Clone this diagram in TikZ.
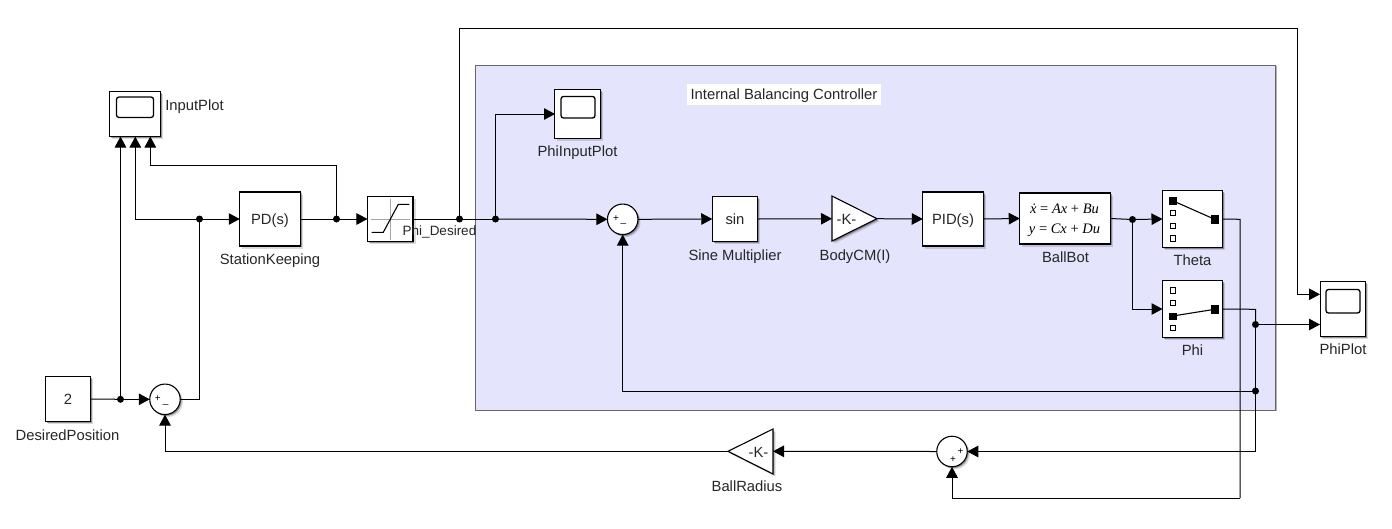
\documentclass[tikz,border=0pt]{standalone}
\usepackage{fontspec}
\setmainfont{Liberation Sans}
\newfontfamily\eqfont{Liberation Serif}
\usetikzlibrary{arrows.meta,shadows,calc}
\definecolor{subfill}{HTML}{E4E4FC}
\definecolor{txt}{HTML}{262626}
\newcommand{\eqi}[1]{{\itshape #1}}
\tikzset{
  softshadow/.style={drop shadow={shadow xshift=2.6pt,shadow yshift=-2.6pt,fill=black,opacity=.14},drop shadow={shadow xshift=1.4pt,shadow yshift=-1.4pt,fill=black,opacity=.32}},
  blockbox/.style={draw=black,fill=white,line width=1.1pt,softshadow,inner sep=0pt,outer sep=0pt,text=txt,text height=12pt,text depth=2pt,font=\fontsize{14.8}{17}\selectfont},
  sumblock/.style={blockbox,circle,minimum size=30.5pt},
  lab/.style={text=txt,text height=10.5pt,text depth=3pt,font=\fontsize{14.8}{17}\selectfont,inner sep=0pt},
  signlab/.style={text=black,font=\fontsize{10}{10}\selectfont,inner sep=0pt},
  wire/.style={line width=1pt,draw=black},
  sig/.style={wire,-{Triangle[length=11pt,width=11.5pt]}},
  dotj/.style={circle,fill=black,minimum size=7pt,inner sep=0pt,outer sep=0pt},
  screen/.style={draw=black,line width=1.3pt,rounded corners=2.5pt,fill=white},
  fport/.style={draw=black,fill=black,line width=.6pt},
  oport/.style={draw=black,fill=white,line width=1pt},
  eqlab/.style={inner sep=0pt,text=black,text height=10pt,text depth=3pt,font=\eqfont\fontsize{14.5}{16}\selectfont}
}
\begin{document}
\begin{tikzpicture}[x=1pt,y=-1pt]
\useasboundingbox (0,0) rectangle (1392,528);
% subsystem background
\node[draw=black!60,fill=subfill,line width=1pt,minimum width=800pt,minimum height=345pt,inner sep=0pt,outer sep=0pt,drop shadow={shadow xshift=1pt,shadow yshift=-1pt,fill=black,opacity=.3}] (area) at (875.7,237.5) {};
\node[fill=white,minimum width=193.5pt,minimum height=21pt,lab,text height=12pt,text depth=2.5pt] (title) at (784,94.5) {Internal Balancing Controller};

% blocks
\node[blockbox,minimum width=51pt,minimum height=45pt] (input) at (135.3,114) {};
\node[blockbox,minimum width=60.5pt,minimum height=54pt] (pd) at (270,219) {PD(s)};
\node[blockbox,minimum width=45.5pt,minimum height=45pt] (sat) at (390.2,219) {};
\node[blockbox,minimum width=45.5pt,minimum height=45pt] (dp) at (68,399) {2};
\node[sumblock] (s1) at (165,399.3) {};
\node[blockbox,minimum width=45.5pt,minimum height=48.5pt] (pinp) at (577.5,113.8) {};
\node[sumblock] (s2) at (622.7,219.3) {};
\node[blockbox,minimum width=45.5pt,minimum height=45pt] (sinb) at (735,219) {sin};
\node[blockbox,minimum width=60.5pt,minimum height=54pt] (pid) at (953,219) {PID(s)};
\node[blockbox,minimum width=90.5pt,minimum height=51pt] (bb) at (1065,218.5) {};
\node[blockbox,minimum width=60pt,minimum height=57pt] (theta) at (1192.5,219) {};
\node[blockbox,minimum width=60pt,minimum height=56.5pt] (phi) at (1192.5,309) {};
\node[blockbox,minimum width=45.5pt,minimum height=54.5pt] (pplot) at (1342.8,309) {};
\node[sumblock] (s3) at (952,451.5) {};
\node[eqlab] (eq1) at (1064.5,210) {\eqi{ẋ} = \eqi{Ax} + \eqi{Bu}};
\node[eqlab] (eq2) at (1064.5,230) {\eqi{y} = \eqi{Cx} + \eqi{Du}};

% gains
\draw[draw=black,fill=white,line width=1.1pt,softshadow] (832,196) -- (877,218.7) -- (832,241) -- cycle;
\draw[draw=black,fill=white,line width=1.1pt,softshadow] (773,429) -- (728,451.3) -- (773,474) -- cycle;
\node[lab] (bcmk) at (846.5,220.25) {-K-};
\node[lab] (brk) at (758.5,453.25) {-K-};
\coordinate (bcmin) at (832,218.7);
\coordinate (bcmout) at (877,218.7);
\coordinate (brin) at (773,451.3);
\coordinate (brout) at (728,451.3);

% scope screens
\draw[screen] (116.5,97) rectangle (153.5,117.5);
\draw[screen] (561,96.5) rectangle (595,118);
\draw[screen] (1326,289.5) rectangle (1360,313);

% saturation icon
\draw[black!35,line width=1pt] (370.5,219) -- (410,219);
\draw[black!35,line width=1pt] (390.2,198.5) -- (390.2,239.5);
\draw[black,line width=1.1pt] (371.7,232.3) -- (383.3,232.3) -- (398.3,204.3) -- (409.3,204.3);

% selector icons
\draw[black,line width=1.1pt] (1172.7,200.7) -- (1214.7,219.3);
\draw[fport] (1169.5,197.7) rectangle (1176,203.9);
\foreach \yy in {212.7,225.7,238.3} \draw[oport] (1170,\yy-2.7) rectangle (1175.5,\yy+2.7);
\draw[fport] (1211.4,215.2) rectangle (1218,223.4);
\draw[black,line width=1.1pt] (1172.7,316) -- (1214.7,309.3);
\draw[fport] (1169.5,312.8) rectangle (1176,319.2);
\foreach \yy in {290.3,302.7,328} \draw[oport] (1170,\yy-2.7) rectangle (1175.5,\yy+2.7);
\draw[fport] (1211.4,305.2) rectangle (1218,313.4);

% signs
\node[signlab] (s1p) at (157.7,398.5) {+};
\node[signlab] (s1m) at (165.7,404.5) {\_};
\node[signlab] (s2p) at (616,218.8) {+};
\node[signlab] (s2m) at (623.3,223.5) {\_};
\node[signlab] (s3a) at (960.5,451.5) {+};
\node[signlab] (s3b) at (953,460) {+};

% labels
\node[lab] (l1) at (194.5,106.25) {InputPlot};
\node[lab] (l2) at (270,260.25) {StationKeeping};
\node[lab] (l3) at (67.5,436.25) {DesiredPosition};
\node[lab] (l4) at (577.5,152.25) {PhiInputPlot};
\node[lab] (l5) at (735,256.25) {Sine Multiplier};
\node[lab] (l6) at (855,256.25) {BodyCM(I)};
\node[lab] (l7) at (1065.5,259) {BallBot};
\node[lab] (l8) at (1192.5,262) {Theta};
\node[lab] (l9) at (1192.5,352) {Phi};
\node[lab] (l10) at (1343,350.3) {PhiPlot};
\node[lab] (l11) at (747,488) {BallRadius};
\node[lab,font=\fontsize{13.5}{15}\selectfont] (l12) at (439.5,231.25) {Phi\_Desired};

% junctions
\node[dotj] (j1) at (120.5,399.3) {};
\node[dotj] (j2) at (199.5,219) {};
\node[dotj] (j3) at (336.5,219) {};
\node[dotj] (j4) at (459.5,219) {};
\node[dotj] (j5) at (495.5,219) {};
\node[dotj] (j6) at (1132.5,219.5) {};
\node[dotj] (j7) at (1255.5,324.5) {};
\node[dotj] (j8) at (1255.5,391) {};

% ports and bends
\coordinate (ip1) at (120.5,136.5);
\coordinate (ip2) at (135.3,136.5);
\coordinate (ip3) at (150.3,136.5);
\coordinate (bend3) at (336.5,165.7);
\coordinate (bend4) at (150.3,165.7);
\coordinate (topl) at (459.5,28);
\coordinate (topr) at (1297.5,28);
\coordinate (pp1) at (1320,294.3);
\coordinate (pp2) at (1320,324.5);
\coordinate (pi1) at (555,114);
\coordinate (th1) at (1240,219.3);
\coordinate (th2) at (1240,498);
\coordinate (ph1) at (1255.5,309.3);
\coordinate (low) at (1255.5,451.5);

% connectors
\draw[sig] (j1.center) -- (ip1);
\draw[wire] (dp.east) -- (j1.center);
\draw[sig] (j1.center) -- (s1.west);
\draw[wire] (s1.east) -| (j2.center);
\draw[sig] (j2.center) -- (pd.west);
\draw[sig] (j2.center) -| (ip2);
\draw[wire] (pd.east) -- (j3.center);
\draw[sig] (j3.center) -- (sat.west);
\draw[sig] (j3.center) -- (bend3) -- (bend4) -- (ip3);
\draw[wire] (sat.east) -- (j4.center);
\draw[wire] (j4.center) -- (j5.center);
\draw[sig] (j4.center) -- (topl) -- (topr) -- (topr |- pp1) -- (pp1);
\draw[sig] (j5.center) |- (pi1);
\draw[sig] (j5.center) -- (s2.west);
\draw[sig] (s2.east) -- (sinb.west);
\draw[sig] (sinb.east) -- (bcmin);
\draw[sig] (bcmout) -- (pid.west);
\draw[sig] (pid.east) -- (bb.west);
\draw[wire] (bb.east) -- (j6.center);
\draw[sig] (j6.center) -- (theta.west);
\draw[sig] (j6.center) |- (phi.west);
\draw[sig] (j8.center) -| (s2.south);
\draw[wire] (theta.east) -- (th1) -- (th2);
\draw[sig] (th2) -| (s3.south);
\draw[wire] (phi.east) -- (ph1) -- (j7.center);
\draw[sig] (j7.center) -- (pp2);
\draw[wire] (j7.center) -- (j8.center);
\draw[wire] (j8.center) -- (low);
\draw[sig] (low) -- (s3.east);
\draw[sig] (s3.west) -- (brin);
\draw[sig] (brout) -| (s1.south);
\end{tikzpicture}
\end{document}
